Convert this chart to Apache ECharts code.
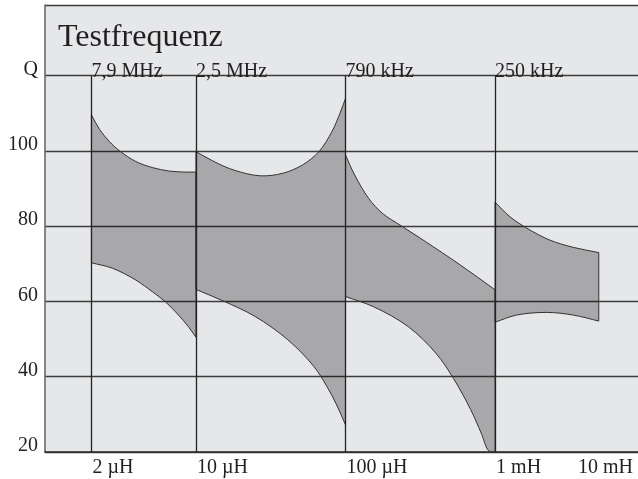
<!DOCTYPE html>
<html>
<head>
<meta charset="utf-8">
<script src="https://cdn.jsdelivr.net/npm/echarts@6/dist/echarts.min.js"></script>
<style>
  html, body { margin: 0; padding: 0; background: #ffffff; }
  #chart { width: 638px; height: 479px; }
</style>
</head>
<body>
<div id="chart"></div>
<script>
// ---- Data (inductance in µH, Q values) ----
const titleText = 'Testfrequenz';
const segFreq = ['7,9 MHz', '2,5 MHz', '790 kHz', '250 kHz'];
const segStartL = [2, 10, 100, 1000];
const inductTickValues = [2, 10, 100, 1000];
const inductLabels = ['2 µH', '10 µH', '100 µH', '1 mH', '10 mH'];
const yTicks = [20, 40, 60, 80, 100, 120];
const yTopLabel = 'Q';

const band1Upper = [[2,109.6],[2.27,105.7],[2.64,102.5],[3.07,100.1],[3.96,97.2],[5.11,95.6],[6.57,94.7],[8.46,94.4],[10,94.4]];
const band1Lower = [[2,70.3],[2.78,68.8],[3.96,65.7],[5.11,62.6],[6.25,59.9],[7.64,56.4],[8.9,53.3],[10,50.5]];
const band2Upper = [[10,99.8],[14.0,96.7],[18.0,94.9],[26.9,93.4],[38.2,94.1],[51.6,96.3],[66.3,99.8],[81.0,105.1],[91.8,110.0],[100,114.0]];
const band2Lower = [[10,63.2],[15.1,60.2],[24.9,56.0],[41.2,49.8],[61.5,42.7],[75.1,37.4],[87.3,32.5],[100,27.2]];
const band3Upper = [[100,98.9],[115.2,93.6],[142.8,87.4],[176.8,83.4],[236,80.1],[343,75.9],[586,69.7],[1000,63.1]];
const band3Lower = [[100,61.3],[154,58.6],[263,53.3],[403,46.2],[526,39.6],[688,31.2],[808,25.0],[908,20.3],[1000,20]];
const band4Upper = [[1000,86.4],[1259,82.5],[1627,79.5],[2326,76.3],[3327,74.4],[4935,73.0]];
const band4Lower = [[1000,54.5],[1395,56.4],[2211,57.1],[3327,56.4],[4935,54.8]];

const bands = [
  { upper: band1Upper, lower: band1Lower },
  { upper: band2Upper, lower: band2Lower },
  { upper: band3Upper, lower: band3Lower },
  { upper: band4Upper, lower: band4Lower }
];

// ---- Styling ----
const FONT = "'Liberation Serif', 'DejaVu Serif', serif";
const TEXT = '#231f20';
const Y_MIN = 20, Y_MAX = 138.8, Q_TOP = 120;

// Centripetal Catmull-Rom through pixel points -> cubic Bezier path commands (render smoothing only)
function curveCmds(pts) {
  let d = '';
  const n = pts.length;
  function dist(a, b) { return Math.sqrt(Math.hypot(b[0] - a[0], b[1] - a[1])); }
  for (let i = 0; i < n - 1; i++) {
    const p0 = pts[Math.max(i - 1, 0)], p1 = pts[i], p2 = pts[i + 1], p3 = pts[Math.min(i + 2, n - 1)];
    const d1 = dist(p0, p1), d2 = dist(p1, p2), d3 = dist(p2, p3);
    let c1, c2;
    if (d1 < 1e-6) {
      c1 = [p1[0] + (p2[0] - p1[0]) / 3, p1[1] + (p2[1] - p1[1]) / 3];
    } else {
      const a = 2 * d1 * d1 + 3 * d1 * d2 + d2 * d2, den = 3 * d1 * (d1 + d2);
      c1 = [(d1 * d1 * p2[0] - d2 * d2 * p0[0] + a * p1[0]) / den, (d1 * d1 * p2[1] - d2 * d2 * p0[1] + a * p1[1]) / den];
    }
    if (d3 < 1e-6) {
      c2 = [p2[0] - (p2[0] - p1[0]) / 3, p2[1] - (p2[1] - p1[1]) / 3];
    } else {
      const b = 2 * d3 * d3 + 3 * d3 * d2 + d2 * d2, den = 3 * d3 * (d3 + d2);
      c2 = [(d3 * d3 * p1[0] - d2 * d2 * p3[0] + b * p2[0]) / den, (d3 * d3 * p1[1] - d2 * d2 * p3[1] + b * p2[1]) / den];
    }
    d += ' C' + c1[0].toFixed(2) + ' ' + c1[1].toFixed(2) + ' ' + c2[0].toFixed(2) + ' ' + c2[1].toFixed(2) + ' ' + p2[0].toFixed(2) + ' ' + p2[1].toFixed(2);
  }
  return d;
}

const chart = echarts.init(document.getElementById('chart'), null, { renderer: 'canvas' });

const option = {
  animation: false,
  backgroundColor: '#ffffff',
  title: {
    text: titleText,
    left: 58, top: 22, padding: 0,
    textStyle: { fontFamily: FONT, fontSize: 32, fontWeight: 'normal', color: TEXT }
  },
  grid: {
    left: 45, right: 0, top: 5, bottom: 27,
    show: true, backgroundColor: '#e6e7e9', borderWidth: 0
  },
  xAxis: {
    type: 'log', logBase: 10, min: 0.9787, max: 9027,
    axisLine: { show: true, onZero: false, lineStyle: { color: '#2a2a2a', width: 1.5 } },
    axisTick: { show: false },
    axisLabel: { show: false },
    splitLine: { show: false },
    name: inductLabels[4],
    nameLocation: 'end',
    nameGap: -5,
    nameTextStyle: { fontFamily: FONT, fontSize: 20, color: TEXT, align: 'right', verticalAlign: 'top', padding: [6, 0, 0, 0] }
  },
  yAxis: {
    type: 'value', min: Y_MIN, max: Y_MAX, interval: 20,
    axisLine: { show: true, lineStyle: { color: '#6a6a6a', width: 1.6 } },
    axisTick: { show: false },
    splitLine: { show: true, lineStyle: { color: '#3c3c3c', width: 1.3 } },
    axisLabel: {
      fontFamily: FONT, fontSize: 20, color: TEXT, margin: 7,
      verticalAlign: 'bottom', lineHeight: 12,
      formatter: function (v) {
        if (Math.abs(v - Q_TOP) < 1e-6) return yTopLabel;
        return yTicks.indexOf(v) >= 0 ? String(v) : '';
      }
    }
  },
  series: [
    {
      type: 'custom',
      name: 'bands',
      data: segStartL.map(function (L, i) { return [L, Q_TOP, i]; }),
      encode: { x: 0, y: 1 },
      renderItem: function (params, api) {
        const b = bands[api.value(2)];
        const up = b.upper.map(function (p) { return api.coord(p); });
        const lo = b.lower.slice().reverse().map(function (p) { return api.coord(p); });
        let d = 'M' + up[0][0].toFixed(2) + ' ' + up[0][1].toFixed(2) + curveCmds(up);
        d += ' L' + lo[0][0].toFixed(2) + ' ' + lo[0][1].toFixed(2) + curveCmds(lo) + ' Z';
        return {
          type: 'path',
          shape: { pathData: d },
          style: { fill: 'rgba(0,0,0,0.27)', stroke: '#333333', lineWidth: 1 }
        };
      },
      z: 3
    },
    {
      type: 'custom',
      name: 'freqLabels',
      data: segStartL.map(function (L, i) { return [L, Q_TOP, i]; }),
      encode: { x: 0, y: 1 },
      renderItem: function (params, api) {
        const c = api.coord([api.value(0), api.value(1)]);
        return {
          type: 'text',
          style: {
            text: segFreq[api.value(2)], x: c[0], y: c[1] + 3,
            align: 'left', verticalAlign: 'bottom', lineHeight: 14,
            fontFamily: FONT, fontSize: 20, fill: TEXT
          }
        };
      },
      markLine: {
        silent: true,
        symbol: ['none', 'none'],
        label: { show: false },
        lineStyle: { color: '#222222', width: 1.3, type: 'solid' },
        data: segStartL.map(function (L) { return [{ coord: [L, Y_MIN] }, { coord: [L, Q_TOP] }]; })
      },
      z: 4
    },
    {
      type: 'custom',
      name: 'inductLabels',
      data: inductTickValues.map(function (L, i) { return [L, Y_MIN, i]; }),
      encode: { x: 0, y: 1 },
      clip: false,
      renderItem: function (params, api) {
        const c = api.coord([api.value(0), api.value(1)]);
        return {
          type: 'text',
          style: {
            text: inductLabels[api.value(2)], x: c[0] + 1, y: c[1] + 6,
            align: 'left', verticalAlign: 'top', lineHeight: 20,
            fontFamily: FONT, fontSize: 20, fill: TEXT
          }
        };
      },
      z: 4
    }
  ]
};
chart.setOption(option);
</script>
</body>
</html>
